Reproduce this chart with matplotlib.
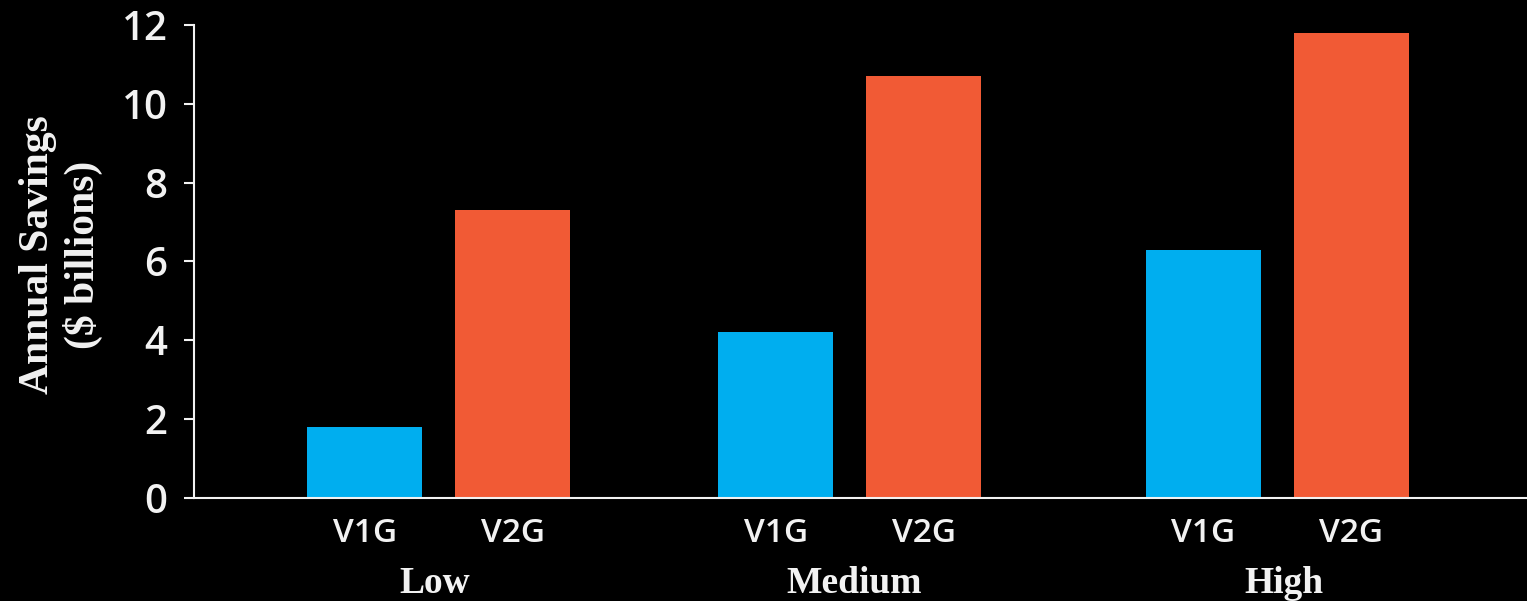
import numpy as np
import matplotlib.pyplot as plt

# Scenario data (annual savings, $ billions)
scenarios = ["Low", "Medium", "High"]
bar_labels = ["V1G", "V2G"]
v1g = [1.8, 4.2, 6.3]
v2g = [7.3, 10.7, 11.8]
y_ticks = [0, 2, 4, 6, 8, 10, 12]

blue = "#00AEEF"
orange = "#F15A35"
fg = "#F2F2F2"

fig = plt.figure(figsize=(15.27, 6.01), dpi=100, facecolor="black")
ax = fig.add_axes([0.127, 0.1714, 0.873, 0.787], facecolor="black")

# group centres in axis units (pixels from left spine)
centres = np.array([245, 656, 1083.5])
label_x = np.array([241, 660, 1090])
off = 74
w = 115

ax.bar(centres - off, v1g, width=w, color=blue)
ax.bar(centres + off, v2g, width=w, color=orange)

ax.set_xlim(0, 1333)
ax.set_ylim(0, 12)
ax.set_yticks(y_ticks)
ax.set_yticklabels([str(t) for t in y_ticks])

xt = np.concatenate([centres - off, centres + off])
ax.set_xticks(xt)
ax.set_xticklabels([bar_labels[0]] * 3 + [bar_labels[1]] * 3)

for s in ["top", "right"]:
    ax.spines[s].set_visible(False)
for s in ["left", "bottom"]:
    ax.spines[s].set_color(fg)
    ax.spines[s].set_linewidth(1.5)

ax.tick_params(axis="y", colors=fg, length=7, width=1.5, pad=12,
               labelsize=29)
ax.tick_params(axis="x", colors=fg, length=0, pad=14, labelsize=24)
for lab in ax.get_yticklabels() + ax.get_xticklabels():
    lab.set_fontfamily("Open Sans")
    lab.set_fontweight("semibold")

for c, name in zip(label_x, scenarios):
    ax.text(c, -0.18, name, transform=ax.get_xaxis_transform(),
            ha="center", va="center", color=fg, fontsize=27,
            fontfamily="Liberation Serif", fontweight="bold")

fig.text(0.040, 0.576, "Annual Savings\n($ billions)", rotation=90,
         ha="center", va="center", color=fg, fontsize=30,
         fontfamily="Liberation Serif", fontweight="bold",
         linespacing=1.2)

fig.savefig("out.png", dpi=100, facecolor="black")
